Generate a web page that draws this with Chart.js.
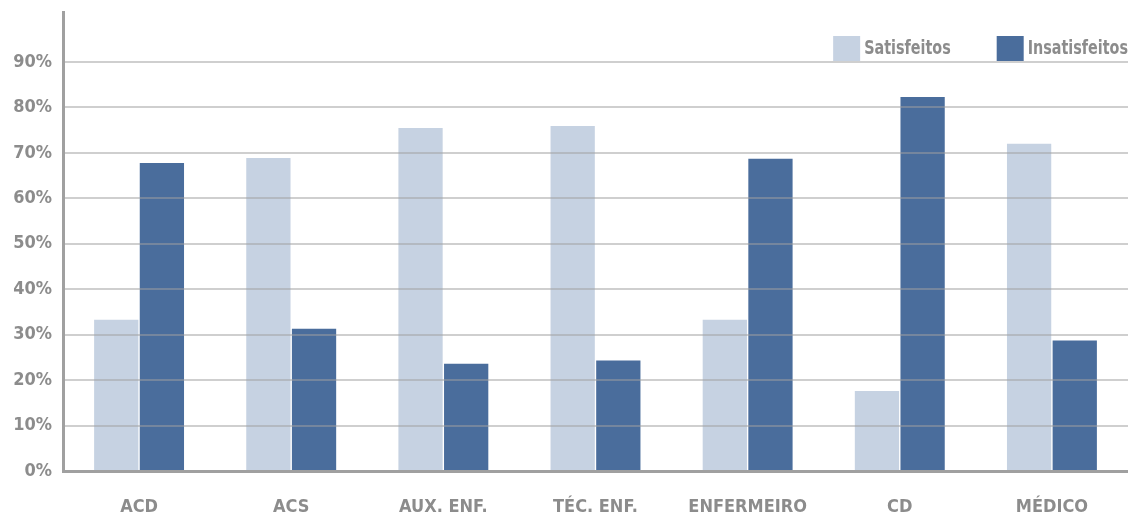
<!DOCTYPE html>
<html>
<head>
<meta charset="utf-8">
<script src="https://cdn.jsdelivr.net/npm/chart.js@4/dist/chart.umd.min.js"></script>
<style>
  html, body { margin: 0; padding: 0; background: #fff; }
  #wrap { width: 1128px; height: 516px; position: relative; }
</style>
</head>
<body>
<div id="wrap"><canvas id="satisfacao"></canvas></div>
<script>
// categorias e valores (%)
const categorias = ['ACD', 'ACS', 'AUX. ENF.', 'TÉC. ENF.', 'ENFERMEIRO', 'CD', 'MÉDICO'];
const satisfeitos = [33.3, 68.9, 75.5, 75.9, 33.3, 17.6, 72.0];
const insatisfeitos = [67.8, 31.3, 23.6, 24.3, 68.7, 82.3, 28.7];
const yTicks = [0, 10, 20, 30, 40, 50, 60, 70, 80, 90];

const FONT = '"Liberation Sans Narrow", "DejaVu Sans Condensed", "Roboto Condensed", sans-serif';
const GRAY = '#8c8c8c';

// legenda desenhada dentro da area do grafico, canto superior direito
const insideLegend = {
  id: 'insideLegend',
  afterDraw(chart) {
    const c = chart.ctx;
    const area = chart.chartArea;
    const squeeze = 0.84; // fonte condensada
    c.save();
    c.font = 'bold 19px ' + FONT;
    c.textBaseline = 'middle';
    c.textAlign = 'left';
    let x = area.right;
    const y = area.top + 24;
    chart.data.datasets.slice().reverse().forEach((ds) => {
      const w = c.measureText(ds.label).width * squeeze;
      x -= w;
      c.save();
      c.translate(x, y + 13);
      c.scale(squeeze, 1);
      c.fillStyle = GRAY;
      c.fillText(ds.label, 0, 0);
      c.restore();
      x -= 31;
      c.fillStyle = ds.backgroundColor;
      c.fillRect(x, y, 27, 25);
      x -= 46;
    });
    c.restore();
  }
};

const ctx = document.getElementById('satisfacao').getContext('2d');

new Chart(ctx, {
  type: 'bar',
  data: {
    labels: categorias,
    datasets: [
      {
        label: 'Satisfeitos',
        data: satisfeitos,
        backgroundColor: '#c6d2e2',
        borderWidth: 0,
        barPercentage: 0.97,
        categoryPercentage: 0.6
      },
      {
        label: 'Insatisfeitos',
        data: insatisfeitos,
        backgroundColor: '#4a6d9c',
        borderWidth: 0,
        barPercentage: 0.97,
        categoryPercentage: 0.6
      }
    ]
  },
  plugins: [insideLegend],
  options: {
    responsive: true,
    maintainAspectRatio: false,
    animation: false,
    layout: { padding: { top: 12, right: 0, left: 0, bottom: 0 } },
    plugins: {
      tooltip: { enabled: false },
      legend: { display: false }
    },
    scales: {
      x: {
        grid: { display: false, drawTicks: false },
        border: { color: '#a0a0a0', width: 3, z: 1 },
        ticks: {
          color: GRAY,
          padding: 26,
          font: { family: FONT, size: 18, weight: 'bold' }
        },
        afterFit: (scale) => { scale.height = 45; }
      },
      y: {
        min: 0,
        max: 101,
        afterBuildTicks: (scale) => {
          scale.ticks = yTicks.map(v => ({ value: v }));
        },
        grid: {
          z: 1,
          drawTicks: false,
          color: 'rgba(160,160,160,0.5)',
          lineWidth: 2
        },
        border: { color: '#a0a0a0', width: 3, z: 1 },
        ticks: {
          color: GRAY,
          padding: 11,
          font: { family: FONT, size: 18, weight: 'bold' },
          callback: (v) => v + '%'
        },
        afterFit: (scale) => {
          scale.width = 63;
          scale.paddingTop = 0;
          scale.paddingBottom = 0;
        }
      }
    }
  }
});
</script>
</body>
</html>
